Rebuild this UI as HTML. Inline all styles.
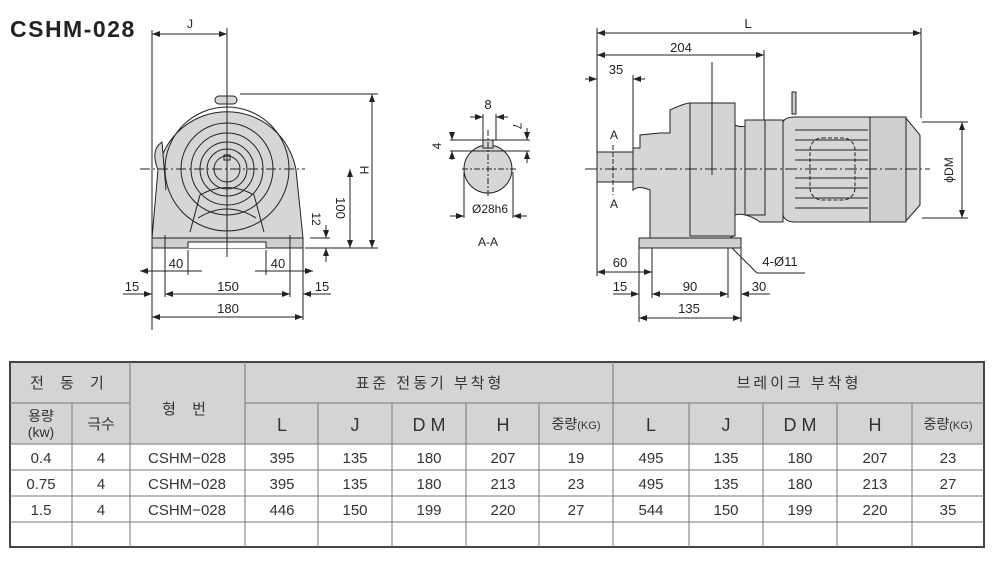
<!DOCTYPE html>
<html><head><meta charset="utf-8"><style>
body{margin:0;width:999px;height:564px;background:#fff;overflow:hidden;font-family:"Liberation Sans","Noto Sans CJK KR",sans-serif}
svg{position:absolute;left:0;top:0}
</style></head><body>
<svg width="999" height="564" viewBox="0 0 999 564" font-family="Liberation Sans, Noto Sans CJK KR, sans-serif">
<defs>
<marker id="a" markerWidth="8" markerHeight="6" refX="8" refY="3" orient="auto-start-reverse" markerUnits="userSpaceOnUse"><path d="M0,0 L8,3 L0,6z" fill="#222"/></marker>
</defs>
<text x="10" y="37" font-size="23" font-weight="bold" fill="#222" letter-spacing="1.5">CSHM-028</text>
<g stroke="#222" stroke-width="1" fill="none">
<!-- front view -->
<path d="M152,238 L158,170 A70,70 0 0 1 296,170 L303,238 Z" fill="#d6d6d6"/>
<path d="M158,170 Q150,150 162,142 L166,190" fill="#d6d6d6"/>
<rect x="215" y="96" width="22" height="8" rx="4" fill="#d6d6d6"/>
<circle cx="227" cy="169" r="62"/>
<circle cx="227" cy="169" r="46"/>
<circle cx="227" cy="169" r="36"/>
<circle cx="227" cy="169" r="27"/>
<circle cx="227" cy="169" r="20"/>
<circle cx="227" cy="169" r="13"/>
<rect x="224" y="155" width="6" height="5"/>
<path d="M190,232 L200,195 Q227,180 254,195 L264,232"/>
<path d="M198,218 Q227,200 256,218"/>
<rect x="152" y="238" width="151" height="10" fill="#cfcfcf"/>
<path d="M188,248 V242 H266 V248" fill="#fff"/>
<line x1="227" y1="28" x2="227" y2="257"/>
<line x1="140" y1="169" x2="305" y2="169" stroke-dasharray="10,3,2,3"/>
<line x1="152" y1="30" x2="152" y2="330"/>
<line x1="303" y1="248" x2="303" y2="320"/>
<line x1="165" y1="235" x2="165" y2="297"/>
<line x1="290" y1="235" x2="290" y2="297"/>
<line x1="188" y1="250" x2="188" y2="275"/>
<line x1="266" y1="250" x2="266" y2="275"/>
<line x1="152" y1="34" x2="227" y2="34" marker-start="url(#a)" marker-end="url(#a)"/>
<line x1="240" y1="94" x2="378" y2="94"/>
<line x1="305" y1="248" x2="378" y2="248"/>
<line x1="310" y1="238" x2="330" y2="238"/>
<line x1="372" y1="94" x2="372" y2="248" marker-start="url(#a)" marker-end="url(#a)"/>
<line x1="350" y1="169" x2="350" y2="248" marker-start="url(#a)" marker-end="url(#a)"/>
<line x1="326" y1="225" x2="326" y2="238" marker-end="url(#a)"/>
<line x1="326" y1="262" x2="326" y2="248" marker-end="url(#a)"/>
<line x1="140" y1="271" x2="202" y2="271" marker-start="url(#a)"/>
<line x1="255" y1="271" x2="313" y2="271" marker-end="url(#a)"/>
<line x1="123" y1="294" x2="152" y2="294" marker-end="url(#a)"/>
<line x1="165" y1="294" x2="290" y2="294" marker-start="url(#a)" marker-end="url(#a)"/>
<line x1="331" y1="294" x2="303" y2="294" marker-end="url(#a)"/>
<line x1="152" y1="317" x2="303" y2="317" marker-start="url(#a)" marker-end="url(#a)"/>
<!-- A-A -->
<circle cx="488" cy="169" r="24" fill="#d6d6d6"/>
<rect x="483" y="140" width="10" height="8" fill="#d6d6d6"/>
<line x1="488" y1="130" x2="488" y2="198" stroke-dasharray="6,2,2,2"/>
<line x1="462" y1="169" x2="516" y2="169" stroke-dasharray="6,2,2,2"/>
<line x1="483" y1="114" x2="483" y2="140"/><line x1="496" y1="114" x2="496" y2="140"/>
<line x1="470" y1="117" x2="483" y2="117" marker-end="url(#a)"/>
<line x1="508" y1="117" x2="496" y2="117" marker-end="url(#a)"/>
<line x1="450" y1="140" x2="530" y2="140"/><line x1="450" y1="151" x2="530" y2="151"/>
<line x1="452" y1="132" x2="452" y2="140" marker-end="url(#a)"/>
<line x1="452" y1="160" x2="452" y2="151" marker-end="url(#a)"/>
<line x1="527" y1="128" x2="527" y2="140" marker-end="url(#a)"/>
<line x1="527" y1="163" x2="527" y2="151" marker-end="url(#a)"/>
<line x1="464" y1="172" x2="464" y2="218"/><line x1="513" y1="172" x2="513" y2="218"/>
<line x1="450" y1="216" x2="464" y2="216" marker-end="url(#a)"/>
<line x1="527" y1="216" x2="513" y2="216" marker-end="url(#a)"/>
<!-- side view -->
<rect x="597" y="152" width="38" height="30" fill="#d6d6d6"/>
<path d="M633,148 H640 V135 L660,133 H670 V110 Q685,103 690,103 H735 V125 Q745,130 760,120 H783 V222 H760 Q745,212 735,215 V235 L730,238 H650 V190 Q638,185 633,190 Z" fill="#d6d6d6"/>
<rect x="690" y="103" width="45" height="133" fill="#d3d3d3"/>
<rect x="745" y="120" width="20" height="95" fill="#d3d3d3"/>
<path d="M783,122 Q785,117 795,117 H905 L920,135 V205 L905,222 H795 Q785,222 783,215 Z" fill="#d6d6d6"/>
<rect x="870" y="117" width="36" height="105" fill="#cfcfcf"/>
<rect x="792" y="92" width="4" height="22" fill="#ccc"/>
<path d="M795,130 H868 M795,140 H868 M795,150 H868 M795,160 H868 M795,178 H868 M795,188 H868 M795,198 H868 M795,208 H868"/>
<rect x="810" y="138" width="45" height="62" rx="12" stroke-dasharray="4,2"/>
<rect x="639" y="238" width="102" height="10" fill="#cfcfcf"/>
<line x1="585" y1="169" x2="930" y2="169" stroke-dasharray="12,3,2,3"/>
<line x1="613" y1="145" x2="613" y2="195" stroke-dasharray="5,2"/>
<line x1="712" y1="62" x2="712" y2="175"/>
<line x1="597" y1="28" x2="597" y2="276"/>
<line x1="921" y1="28" x2="921" y2="118"/>
<line x1="764" y1="50" x2="764" y2="120"/>
<line x1="633" y1="75" x2="633" y2="150"/>
<line x1="597" y1="33" x2="921" y2="33" marker-start="url(#a)" marker-end="url(#a)"/>
<line x1="597" y1="55" x2="764" y2="55" marker-start="url(#a)" marker-end="url(#a)"/>
<line x1="585" y1="79" x2="597" y2="79" marker-end="url(#a)"/>
<line x1="645" y1="79" x2="633" y2="79" marker-end="url(#a)"/>
<line x1="922" y1="122" x2="968" y2="122"/><line x1="922" y1="218" x2="968" y2="218"/>
<line x1="962" y1="122" x2="962" y2="218" marker-start="url(#a)" marker-end="url(#a)"/>
<line x1="639" y1="248" x2="639" y2="322"/>
<line x1="652" y1="248" x2="652" y2="298"/>
<line x1="728" y1="248" x2="728" y2="298"/>
<line x1="741" y1="248" x2="741" y2="322"/>
<line x1="597" y1="272" x2="652" y2="272" marker-start="url(#a)" marker-end="url(#a)"/>
<line x1="613" y1="294" x2="639" y2="294" marker-end="url(#a)"/>
<line x1="652" y1="294" x2="728" y2="294" marker-start="url(#a)" marker-end="url(#a)"/>
<line x1="770" y1="294" x2="741" y2="294" marker-end="url(#a)"/>
<line x1="639" y1="318" x2="741" y2="318" marker-start="url(#a)" marker-end="url(#a)"/>
<path d="M732,248 L757,273 H805"/>
</g>
<g font-size="13" fill="#222" text-anchor="middle">
<text x="190" y="28" font-size="12">J</text>
<text x="176" y="268">40</text><text x="278" y="268">40</text>
<text x="132" y="291">15</text><text x="228" y="291">150</text><text x="322" y="291">15</text>
<text x="228" y="313">180</text>
<text transform="translate(360,170) rotate(90)" font-size="12">H</text>
<text transform="translate(336,208) rotate(90)">100</text>
<text transform="translate(312,219) rotate(90)" font-size="12">12</text>
<text x="488" y="109">8</text>
<text transform="translate(513,126) rotate(90)" font-size="12">7</text>
<text transform="translate(441,146) rotate(-90)" font-size="12">4</text>
<text x="490" y="213" font-size="12">Ø28h6</text>
<text x="488" y="246" font-size="12">A-A</text>
<text x="748" y="28">L</text>
<text x="681" y="52">204</text>
<text x="616" y="74">35</text>
<text x="614" y="139" font-size="12">A</text>
<text x="614" y="208" font-size="12">A</text>
<text transform="translate(953,170) rotate(-90)" font-size="12">ϕDM</text>
<text x="780" y="266">4-Ø11</text>
<text x="620" y="267">60</text>
<text x="620" y="291">15</text><text x="690" y="291">90</text><text x="759" y="291">30</text>
<text x="689" y="313">135</text>
</g>
<!-- table -->
<g stroke="#444" stroke-width="1">
<rect x="10" y="362" width="235" height="82" fill="#d4d4d4"/>
<rect x="245" y="362" width="739" height="82" fill="#d4d4d4"/>
<rect x="10" y="362" width="974" height="185" fill="none" stroke-width="2"/>
<path d="M10,403 H130 M245,403 H984 M10,444 H984 M10,470 H984 M10,496 H984 M10,522 H984" stroke="#777"/>
<path d="M72,403 V547 M130,362 V547 M245,362 V547 M318,403 V547 M392,403 V547 M466,403 V547 M539,403 V547 M613,362 V547 M689,403 V547 M763,403 V547 M837,403 V547 M912,403 V547" stroke="#777"/>
</g>
<g font-size="15" fill="#333" text-anchor="middle">
<text x="70" y="388" letter-spacing="6">전 동 기</text>
<text x="187" y="414" letter-spacing="6">형 번</text>
<text x="430" y="388" letter-spacing="3">표준 전동기 부착형</text>
<text x="799" y="388" letter-spacing="3">브레이크 부착형</text>
<text x="41" y="421" font-size="14">용량</text><text x="41" y="437" font-size="14">(kw)</text>
<text x="101" y="429">극수</text>
<g font-size="18"><text x="282" y="431">L</text><text x="355" y="431">J</text><text x="429" y="431">D M</text><text x="503" y="431">H</text>
<text x="651" y="431">L</text><text x="726" y="431">J</text><text x="800" y="431">D M</text><text x="875" y="431">H</text></g>
<text x="576" y="429" font-size="14">중량<tspan font-size="11">(KG)</tspan></text>
<text x="948" y="429" font-size="14">중량<tspan font-size="11">(KG)</tspan></text>
<g font-size="15">
<text x="41" y="463">0.4</text><text x="101" y="463">4</text><text x="187" y="463">CSHM−028</text><text x="282" y="463">395</text><text x="355" y="463">135</text><text x="429" y="463">180</text><text x="503" y="463">207</text><text x="576" y="463">19</text><text x="651" y="463">495</text><text x="726" y="463">135</text><text x="800" y="463">180</text><text x="875" y="463">207</text><text x="948" y="463">23</text>
<text x="41" y="489">0.75</text><text x="101" y="489">4</text><text x="187" y="489">CSHM−028</text><text x="282" y="489">395</text><text x="355" y="489">135</text><text x="429" y="489">180</text><text x="503" y="489">213</text><text x="576" y="489">23</text><text x="651" y="489">495</text><text x="726" y="489">135</text><text x="800" y="489">180</text><text x="875" y="489">213</text><text x="948" y="489">27</text>
<text x="41" y="515">1.5</text><text x="101" y="515">4</text><text x="187" y="515">CSHM−028</text><text x="282" y="515">446</text><text x="355" y="515">150</text><text x="429" y="515">199</text><text x="503" y="515">220</text><text x="576" y="515">27</text><text x="651" y="515">544</text><text x="726" y="515">150</text><text x="800" y="515">199</text><text x="875" y="515">220</text><text x="948" y="515">35</text>
</g>
</g>
</svg>
</body></html>
